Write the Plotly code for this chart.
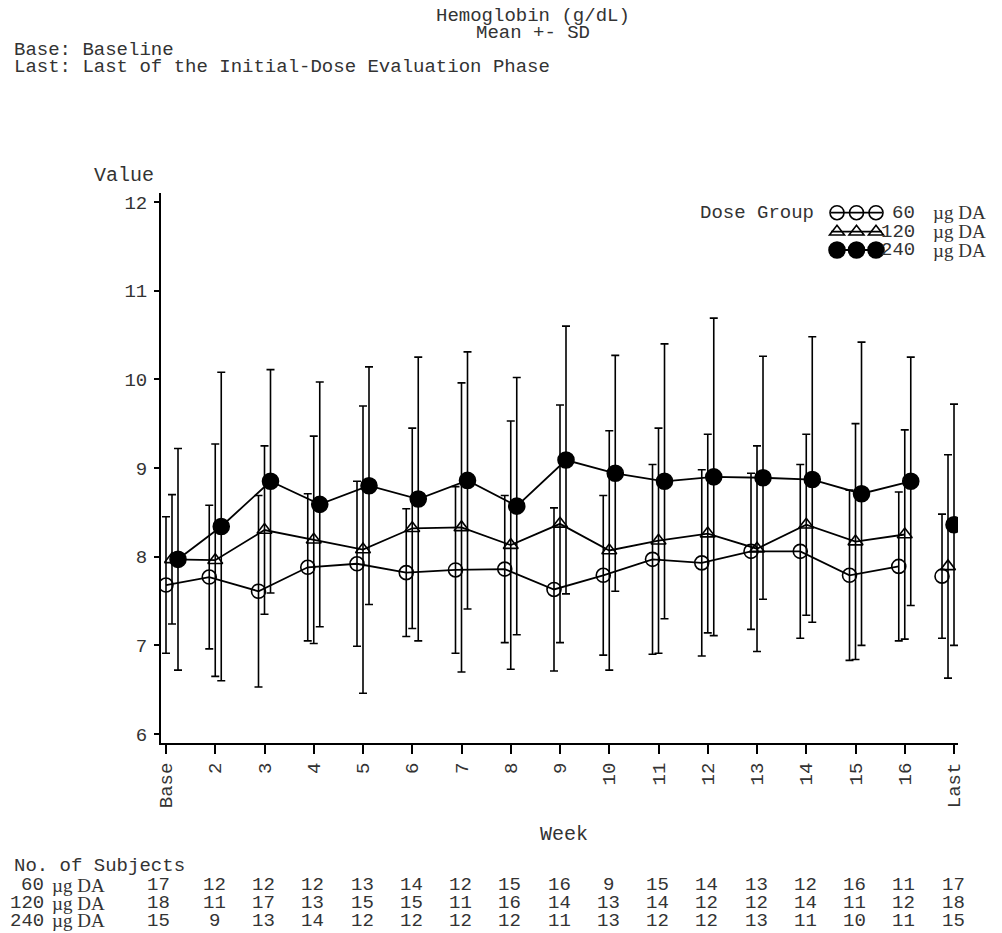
import plotly.graph_objects as go
import math

# ---------------- data ----------------
weeks = ["Base", "2", "3", "4", "5", "6", "7", "8", "9", "10", "11", "12", "13", "14", "15", "16", "Last"]
groups = ["60", "120", "240"]

mean60 = [7.68, 7.77, 7.61, 7.88, 7.92, 7.82, 7.85, 7.86, 7.63, 7.79, 7.97, 7.93, 8.06, 8.06, 7.79, 7.89, 7.78]
sd60 = [0.77, 0.81, 1.08, 0.83, 0.93, 0.72, 0.94, 0.83, 0.92, 0.90, 1.07, 1.05, 0.88, 0.98, 0.96, 0.84, 0.70]

mean120 = [7.97, 7.96, 8.30, 8.19, 8.08, 8.32, 8.33, 8.13, 8.37, 8.07, 8.18, 8.26, 8.09, 8.36, 8.17, 8.25, 7.89]
sd120 = [0.73, 1.31, 0.95, 1.17, 1.62, 1.13, 1.63, 1.40, 1.34, 1.35, 1.27, 1.12, 1.16, 1.02, 1.33, 1.18, 1.26]

mean240 = [7.97, 8.34, 8.85, 8.59, 8.80, 8.65, 8.86, 8.57, 9.09, 8.94, 8.85, 8.90, 8.89, 8.87, 8.71, 8.85, 8.36]
sd240 = [1.25, 1.74, 1.26, 1.38, 1.34, 1.60, 1.45, 1.45, 1.51, 1.33, 1.55, 1.79, 1.37, 1.61, 1.71, 1.40, 1.36]

n60 = [17, 12, 12, 12, 13, 14, 12, 15, 16, 9, 15, 14, 13, 12, 16, 11, 17]
n120 = [18, 11, 17, 13, 15, 15, 11, 16, 14, 13, 14, 12, 12, 14, 11, 12, 18]
n240 = [15, 9, 13, 14, 12, 12, 12, 12, 11, 13, 12, 12, 13, 11, 10, 11, 15]

yticks = [6, 7, 8, 9, 10, 11, 12]

means = [mean60, mean120, mean240]
sds = [sd60, sd120, sd240]
counts = [n60, n120, n240]

# ---------------- layout constants ----------------
W, H = 1002, 933
PL, PR, PT, PB = 161, 958, 193, 743
MONO = "Liberation Mono, Courier New, monospace"
SERIF = "Liberation Serif, Times New Roman, serif"
TXT = "#333333"
FS = 19

XMIN, XMAX = -0.1015, 16.081
YMIN, YMAX = 5.8985, 12.1015
UNIT_PX = (PR - PL) / (XMAX - XMIN)
OFF_PX = 6.0

symbols = ["circle-open", "triangle-up-open", "circle"]
msizes = [14, 13, 16]


def px_x(x):
    return (x - PL) / (PR - PL)


def px_y(y):
    return (PB - y) / (PB - PT)


def offset(g, i, n):
    if i == 0:
        k = g
    elif i == n - 1:
        k = g - 2
    else:
        k = g - 1
    return k * OFF_PX / UNIT_PX


fig = go.Figure()
n = len(weeks)
for g in range(3):
    xs = [i + offset(g, i, n) for i in range(n)]
    marker = dict(symbol=symbols[g], size=msizes[g], color="black",
                  line=dict(width=1.6, color="black"))
    err = dict(type="data", symmetric=True, color="black", thickness=1.6, width=4)
    # connected weeks Base..16
    fig.add_trace(go.Scatter(
        x=xs[:-1], y=means[g][:-1], mode="lines+markers",
        line=dict(color="black", width=1.8), marker=marker,
        error_y=dict(err, array=sds[g][:-1]), showlegend=False,
        name=groups[g] + " µg DA"))
    # Last (not connected)
    fig.add_trace(go.Scatter(
        x=xs[-1:], y=means[g][-1:], mode="markers", marker=marker,
        error_y=dict(err, array=sds[g][-1:]), showlegend=False,
        name=groups[g] + " µg DA"))

annotations = []
shapes = []


def text(x, y, s, anchor="left", size=FS, family=MONO, xref="paper", xshift=0):
    annotations.append(dict(
        x=x, y=px_y(y), xref=xref, yref="paper", text=s, showarrow=False,
        xanchor=anchor, yanchor="middle", xshift=xshift,
        font=dict(family=family, size=size, color=TXT)))


# titles
text(px_x(533), 16, "Hemoglobin (g/dL)", anchor="center")
text(px_x(533), 33, "Mean +- SD", anchor="center")
text(px_x(12), 50, "Base: Baseline")
text(px_x(12), 67, "Last: Last of the Initial-Dose Evaluation Phase")

# axis titles
text(px_x(92), 175, "Value", size=20)
text(px_x(564), 834, "Week", anchor="center", size=20)

# legend
LEG_ROWS = [212.7, 231.7, 250.0]
LEG_KEYS = [837, 856.5, 876]
text(px_x(698), LEG_ROWS[0], "Dose Group")
for g in range(3):
    yy = LEG_ROWS[g]
    shapes.append(dict(type="line", xref="paper", yref="paper",
                       x0=px_x(LEG_KEYS[0] - 6), x1=px_x(LEG_KEYS[-1] + 6),
                       y0=px_y(yy), y1=px_y(yy), line=dict(color="black", width=1.8)))
    for kx in LEG_KEYS:
        if g == 1:
            r = msizes[g] / 2
            rt = r * 2 / math.sqrt(3)
            pts = [(kx - rt, yy + r / 2), (kx + rt, yy + r / 2), (kx, yy - r)]
            path = "M " + " L ".join(f"{px_x(a):.5f},{px_y(b):.5f}" for a, b in pts) + " Z"
            shapes.append(dict(type="path", xref="paper", yref="paper", path=path,
                               line=dict(color="black", width=1.6), fillcolor="rgba(0,0,0,0)"))
        else:
            r = msizes[g] / 2
            shapes.append(dict(type="circle", xref="paper", yref="paper",
                               x0=px_x(kx - r), x1=px_x(kx + r),
                               y0=px_y(yy + r), y1=px_y(yy - r),
                               line=dict(color="black", width=1.6),
                               fillcolor="black" if g == 2 else "rgba(0,0,0,0)"))
    text(px_x(917), yy, groups[g], anchor="right")
    text(px_x(931), yy, "µg DA", family=SERIF)

# subjects table
TAB_Y = [866.0, 885.0, 903.0, 920.5]
text(px_x(12), TAB_Y[0], "No. of Subjects")
for g in range(3):
    yy = TAB_Y[g + 1]
    text(px_x(46), yy, groups[g], anchor="right")
    text(px_x(50), yy, "µg DA", family=SERIF)
    for i, c in enumerate(counts[g]):
        text(i, yy, str(c), anchor="center", xref="x", xshift=(-7.5 if i == 0 else -1))

axis_common = dict(showline=True, linecolor="black", linewidth=2, ticks="outside",
                   tickcolor="black", tickwidth=2, showgrid=False, zeroline=False,
                   tickfont=dict(family=MONO, size=FS, color=TXT))

fig.update_layout(
    width=W, height=H, autosize=False,
    margin=dict(l=PL, r=W - PR, t=PT, b=H - PB, pad=0),
    paper_bgcolor="white", plot_bgcolor="white",
    xaxis=dict(axis_common, range=[XMIN, XMAX], tickvals=list(range(n)), ticktext=weeks,
               tickangle=-90, ticklen=9, ticklabelstandoff=1),
    yaxis=dict(axis_common, range=[YMIN, YMAX], tickvals=yticks,
               ticktext=[str(v) for v in yticks], ticklen=5, ticklabelstandoff=3),
    annotations=annotations, shapes=shapes,
)

fig.write_html("out.html", config={"displayModeBar": False},
               post_script="document.body.style.margin='0';")
